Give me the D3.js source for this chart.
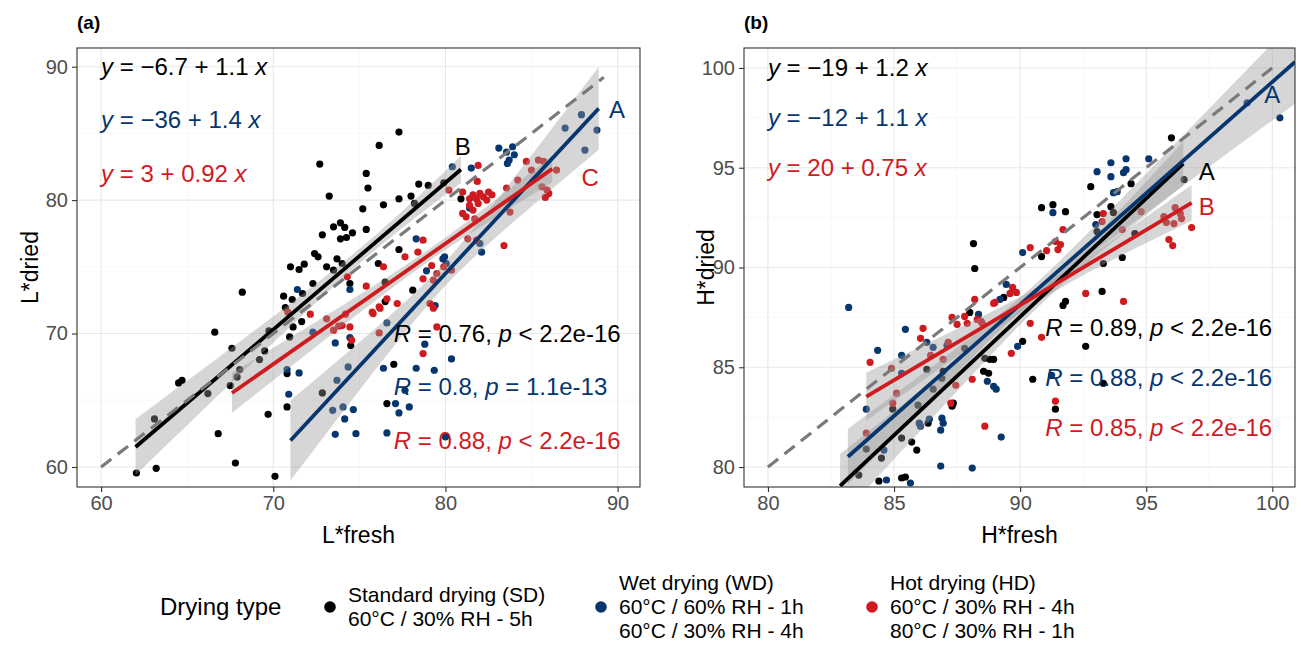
<!DOCTYPE html>
<html lang="en">
<head>
<meta charset="UTF-8">
<title>L* and H* fresh vs dried</title>
<script src="https://cdn.jsdelivr.net/npm/d3@7"></script>
<style>
  body { margin: 0; background: #fff; font-family: 'Liberation Sans', Arial, sans-serif; }
  svg { display: block; }
  .grid-major { stroke: #e8e8e8; stroke-width: 1.1; }
  .grid-minor { stroke: #f3f3f3; stroke-width: 0.6; }
  .tick text { font-size: 20px; fill: #4d4d4d; font-family: 'Liberation Sans', Arial, sans-serif; }
  .tick line { stroke: #333; }
  .axis-title { font-size: 23px; fill: #000; }
  .ann { font-size: 24px; }
</style>
</head>
<body>
<svg id="chart" width="1301" height="646"></svg>
<script>
// ---- data ----
const groups = ['SD', 'WD', 'HD'];
const groupColors = ['#000000', '#07366f', '#cf1b1f'];
const legendLines = [
  ['Standard drying (SD)', '60°C / 30% RH - 5h'],
  ['Wet drying (WD)', '60°C / 60% RH - 1h', '60°C / 30% RH - 4h'],
  ['Hot drying (HD)', '60°C / 30% RH - 4h', '80°C / 30% RH - 1h']
];

// panel (a): L* fresh vs dried
const ticksA = [60, 70, 80, 90];
const minorA = [65, 75, 85];
const sdA = [[62.05,59.55],[63.2,59.9],[63.1,63.6],[64.5,66.3],[64.7,66.5],[66.2,65.5],[66.6,70.1],[66.8,62.5],[68.2,73.1],[67.6,68.9],[67.8,60.3],[67.5,66.1],[67.9,66.75],[68.05,67.3],[69.2,68.05],[69.5,68.7],[69.7,63.95],[69.75,70.2],[70.1,59.3],[70.6,72.8],[71.1,72.55],[71.0,75.0],[71.5,74.8],[71.8,75.2],[70.7,71.95],[71.15,70.5],[70.95,69.75],[70.8,67.0],[70.8,64.5],[71.7,73.0],[71.65,70.9],[72.3,73.75],[72.4,76.0],[72.6,75.75],[72.85,65.55],[73.1,75.0],[73.5,74.75],[73.7,75.6],[74.0,75.25],[74.45,73.75],[74.5,69.1],[77.3,85.1],[76.15,84.1],[72.7,82.7],[75.4,82.0],[75.5,80.9],[73.25,80.3],[75.2,79.35],[76.4,79.65],[77.3,80.1],[78.0,80.3],[78.45,81.2],[79.0,81.1],[79.9,81.3],[73.5,78.0],[73.9,78.3],[74.15,77.95],[74.6,77.55],[74.25,77.2],[73.9,77.1],[75.4,77.8],[72.85,77.4],[76.1,75.25],[77.3,76.3],[76.5,73.85],[78.1,73.25],[78.2,79.75],[80.9,80.1],[76.5,72.4],[77.0,67.7],[76.6,64.75]];
const wdA = [[71.4,73.3],[70.8,67.3],[70.9,65.45],[71.5,67.05],[72.3,70.1],[73.6,69.3],[74.45,73.3],[74.45,69.7],[73.7,66.5],[74.35,67.5],[73.45,64.25],[74.05,64.5],[74.65,64.3],[74.15,63.6],[73.6,62.45],[74.8,62.5],[76.6,62.55],[77.1,64.75],[77.3,64.05],[77.9,64.5],[77.65,65.75],[76.4,67.4],[78.3,67.4],[79.35,67.25],[78.8,69.2],[80.35,68.1],[80.0,62.25],[76.6,70.8],[82.1,76.1],[79.95,75.75],[78.3,77.1],[78.9,74.7],[79.85,75.6],[80.05,75.25],[79.4,72.1],[80.4,82.5],[81.5,82.4],[81.4,79.4],[83.1,83.9],[83.55,83.6],[83.9,84.0],[83.7,83.0],[84.0,83.4],[83.6,82.75],[86.95,85.4],[87.9,86.4],[88.1,83.75],[82.0,76.75],[88.8,85.25]];
const hdA = [[70.85,71.6],[72.15,71.45],[73.1,71.1],[73.5,70.25],[74.0,70.6],[74.2,71.45],[74.3,74.25],[74.55,69.5],[73.8,70.55],[75.4,73.55],[76.4,75.0],[77.65,75.75],[78.4,76.1],[78.7,77.0],[79.2,75.1],[79.5,74.5],[79.3,74.0],[78.7,74.1],[80.2,80.75],[77.2,72.25],[76.15,72.0],[75.75,71.6],[76.6,72.6],[74.45,70.5],[79.1,72.25],[79.3,71.9],[81.9,82.6],[81.85,81.4],[81.0,80.6],[81.4,80.1],[81.6,80.4],[81.8,80.1],[82.0,80.5],[82.2,80.25],[82.5,80.6],[82.7,80.4],[82.4,80.0],[81.9,79.75],[81.4,79.6],[81.0,79.0],[81.2,78.75],[81.6,79.25],[81.7,78.6],[83.55,80.9],[84.2,81.5],[84.7,82.9],[85.4,83.0],[85.7,82.9],[85.0,82.25],[86.45,82.25],[85.6,81.0],[85.9,80.75],[85.8,80.2],[86.0,80.5],[83.75,79.1],[83.4,76.6],[81.3,77.1],[81.8,77.0],[80.35,74.75],[79.9,75.0],[75.8,71.5],[76.2,71.9],[76.15,70.05],[78.7,68.5],[79.5,70.5]];
// fitted lines: intercept, slope, x range, CI half-width at start / narrowest / end
const fitsA = [
  { b0: -6.7, b1: 1.1, x0: 62.0, x1: 80.9, hs: 2.1, hm: 0.55, he: 1.0 },
  { b0: -36.7, b1: 1.39, x0: 71.0, x1: 88.9, hs: 3.0, hm: 0.9, he: 3.1 },
  { b0: 4.5, b1: 0.903, x0: 67.6, x1: 86.2, hs: 1.5, hm: 0.45, he: 1.0 }
];
const identityA = [60, 89.2];
const eqA = [['−6.7', '1.1'], ['−36', '1.4'], ['3', '0.92']];
const eqPosA = { x: 60, y: [90, 86, 82] };
const corA = [['0.76', '<', '2.2e-16'], ['0.8', '=', '1.1e-13'], ['0.88', '<', '2.2e-16']];
const corPosA = { x: 77, y: [70, 66, 62] };
const tagsA = [['B', 0, 81.0, 84.0], ['A', 1, 89.97, 86.75], ['C', 2, 88.4, 81.7]];

// panel (b): H* fresh vs dried
const ticksB = [80, 85, 90, 95, 100];
const minorB = [82.5, 87.5, 92.5, 97.5];
const sdB = [[88.2,89.95],[88.0,87.75],[88.6,85.45],[88.55,84.8],[88.75,84.7],[87.35,83.2],[87.3,83.05],[86.35,82.2],[85.7,81.25],[85.9,80.85],[85.3,81.45],[84.5,80.45],[83.9,80.9],[83.6,79.6],[84.4,79.3],[85.3,79.45],[85.45,79.5],[84.95,82.9],[86.3,84.9],[86.95,84.8],[86.55,83.9],[88.15,91.2],[88.8,85.4],[88.95,85.4],[90.1,86.3],[89.35,88.5],[86.9,84.45],[85.95,83.1],[87.8,85.95],[96.0,96.5],[96.5,94.4],[92.8,94.05],[94.4,94.2],[90.85,93.0],[91.3,93.15],[91.8,92.8],[93.05,92.65],[93.6,93.05],[93.7,92.75],[90.85,90.55],[94.05,90.5],[94.55,91.7],[93.05,91.8],[93.3,90.2],[93.25,88.8],[91.8,88.3],[91.7,88.1],[92.6,86.05],[90.5,84.4],[93.3,84.2],[91.4,82.9]];
const wdB = [[83.2,88.0],[84.35,85.85],[83.9,82.9],[85.3,85.6],[85.45,86.9],[86.3,86.25],[86.55,86.0],[85.3,84.7],[86.0,82.2],[86.05,82.05],[86.4,82.4],[86.9,82.45],[86.95,82.2],[86.85,81.85],[86.85,80.05],[88.1,79.95],[84.7,79.35],[85.65,79.2],[84.6,80.85],[88.35,87.65],[88.7,84.3],[88.95,84.05],[89.05,83.9],[89.25,81.5],[89.45,89.15],[89.2,88.4],[90.1,90.75],[89.9,86.05],[87.1,86.1],[93.05,94.8],[93.6,95.25],[94.2,95.45],[95.1,95.45],[93.6,94.55],[94.1,94.75],[94.2,94.9],[93.7,93.75],[93.85,93.8],[91.3,92.75],[93.0,92.15],[99.0,98.25],[100.3,97.5],[91.25,84.6]];
const hdB = [[84.05,85.25],[84.9,84.95],[85.1,83.7],[84.95,83.2],[83.9,81.7],[86.05,86.45],[86.15,86.95],[86.45,85.6],[87.15,86.25],[87.3,87.5],[87.5,87.15],[87.8,87.55],[88.2,88.4],[88.45,87.3],[87.45,84.1],[88.1,84.4],[88.6,82.05],[87.25,83.2],[86.95,85.4],[87.9,87.2],[88.3,87.4],[88.5,87.2],[88.95,88.2],[89.6,88.7],[89.85,88.75],[89.65,85.7],[90.4,87.2],[90.4,91.0],[91.5,90.9],[91.05,90.85],[91.4,91.3],[91.6,91.15],[91.7,91.9],[93.3,92.7],[93.25,92.3],[94.8,92.8],[95.7,92.55],[95.8,92.25],[96.15,93.0],[96.35,92.7],[96.4,92.45],[96.1,92.2],[96.8,92.0],[95.9,91.4],[96.05,91.1],[94.05,91.9],[89.7,89.0],[89.0,88.25],[90.85,86.5],[92.6,88.7],[94.1,88.3],[91.4,83.3]];
const fitsB = [
  { b0: -19.3, b1: 1.187, x0: 82.86, x1: 96.47, hs: 1.6, hm: 0.35, he: 1.1 },
  { b0: -12.3, b1: 1.116, x0: 83.17, x1: 100.9, hs: 1.4, hm: 0.35, he: 2.1 },
  { b0: 20.35, b1: 0.753, x0: 83.9, x1: 96.8, hs: 1.2, hm: 0.35, he: 0.9 }
];
const identityB = [80, 100];
const eqB = [['−19', '1.2'], ['−12', '1.1'], ['20', '0.75']];
const eqPosB = { x: 80, y: [100, 97.5, 95] };
const corB = [['0.89', '<', '2.2e-16'], ['0.88', '<', '2.2e-16'], ['0.85', '<', '2.2e-16']];
const corPosB = { x: 91, y: [87, 84.5, 82] };
const tagsB = [['A', 1, 100.0, 98.66], ['A', 0, 97.4, 94.8], ['B', 2, 97.4, 93.05]];

// ---- layout ----
const panels = [
  { id: 'a', tag: '(a)', left: 77, right: 640, top: 48, bottom: 487,
    xDom: [58.6, 91.3], yDom: [58.5, 91.4], ticks: ticksA, minor: minorA,
    pts: [sdA, wdA, hdA], fits: fitsA, ident: identityA, eq: eqA, eqPos: eqPosA,
    cor: corA, corPos: corPosA, tags: tagsA, xTitle: 'L*fresh', yTitle: 'L*dried', yTitleX: 30 },
  { id: 'b', tag: '(b)', left: 744, right: 1295, top: 48, bottom: 487,
    xDom: [79.05, 100.9], yDom: [79.0, 101.0], ticks: ticksB, minor: minorB,
    pts: [sdB, wdB, hdB], fits: fitsB, ident: identityB, eq: eqB, eqPos: eqPosB,
    cor: corB, corPos: corPosB, tags: tagsB, xTitle: 'H*fresh', yTitle: 'H*dried', yTitleX: 706 }
];

const svg = d3.select('#chart');

function halfWidth(f) {
  const A = Math.sqrt(f.hs * f.hs - f.hm * f.hm);
  const B = Math.sqrt(f.he * f.he - f.hm * f.hm);
  const xm = (B * f.x0 + A * f.x1) / (A + B);
  const k = Math.pow(A / (xm - f.x0), 2);
  return x => Math.sqrt(f.hm * f.hm + k * (x - xm) * (x - xm));
}

panels.forEach(p => {
  const x = d3.scaleLinear().domain(p.xDom).range([p.left, p.right]);
  const y = d3.scaleLinear().domain(p.yDom).range([p.bottom, p.top]);
  const g = svg.append('g');

  g.append('clipPath').attr('id', 'clip-' + p.id)
    .append('rect').attr('x', p.left).attr('y', p.top)
    .attr('width', p.right - p.left).attr('height', p.bottom - p.top);

  // grid
  const grid = g.append('g');
  p.minor.forEach(v => {
    grid.append('line').attr('class', 'grid-minor')
      .attr('x1', x(v)).attr('x2', x(v)).attr('y1', p.top).attr('y2', p.bottom);
    grid.append('line').attr('class', 'grid-minor')
      .attr('x1', p.left).attr('x2', p.right).attr('y1', y(v)).attr('y2', y(v));
  });
  p.ticks.forEach(v => {
    grid.append('line').attr('class', 'grid-major')
      .attr('x1', x(v)).attr('x2', x(v)).attr('y1', p.top).attr('y2', p.bottom);
    grid.append('line').attr('class', 'grid-major')
      .attr('x1', p.left).attr('x2', p.right).attr('y1', y(v)).attr('y2', y(v));
  });

  const plot = g.append('g').attr('clip-path', 'url(#clip-' + p.id + ')');

  // points
  p.pts.forEach((arr, gi) => {
    plot.append('g').selectAll('circle').data(arr).enter().append('circle')
      .attr('cx', d => x(d[0])).attr('cy', d => y(d[1])).attr('r', 3.6)
      .attr('fill', groupColors[gi]);
  });

  // confidence bands
  p.fits.forEach(f => {
    const hw = halfWidth(f);
    const xs = d3.range(0, 61).map(i => f.x0 + (f.x1 - f.x0) * i / 60);
    const area = d3.area()
      .x(d => x(d))
      .y0(d => y(f.b0 + f.b1 * d - hw(d)))
      .y1(d => y(f.b0 + f.b1 * d + hw(d)));
    plot.append('path').attr('d', area(xs))
      .attr('fill', 'rgba(153,153,153,0.4)');
  });

  // regression lines
  p.fits.forEach((f, gi) => {
    plot.append('line')
      .attr('x1', x(f.x0)).attr('y1', y(f.b0 + f.b1 * f.x0))
      .attr('x2', x(f.x1)).attr('y2', y(f.b0 + f.b1 * f.x1))
      .attr('stroke', groupColors[gi]).attr('stroke-width', 3.8);
  });

  // identity line
  plot.append('line')
    .attr('x1', x(p.ident[0])).attr('y1', y(p.ident[0]))
    .attr('x2', x(p.ident[1])).attr('y2', y(p.ident[1]))
    .attr('stroke', '#7a7a7a').attr('stroke-width', 3.2)
    .attr('stroke-dasharray', '13 8');

  // curve tags
  p.tags.forEach(t => {
    g.append('text').attr('class', 'ann')
      .attr('x', x(t[2])).attr('y', y(t[3])).attr('dy', '0.35em')
      .attr('text-anchor', 'middle').attr('fill', groupColors[t[1]]).text(t[0]);
  });

  // regression equations
  p.eq.forEach((e, gi) => {
    const t = g.append('text').attr('class', 'ann')
      .attr('x', x(p.eqPos.x)).attr('y', y(p.eqPos.y[gi])).attr('dy', '0.35em')
      .attr('fill', groupColors[gi]);
    t.append('tspan').attr('font-style', 'italic').text('y');
    t.append('tspan').text(' = ' + e[0] + ' + ' + e[1] + ' ');
    t.append('tspan').attr('font-style', 'italic').text('x');
  });

  // correlations
  p.cor.forEach((c, gi) => {
    const t = g.append('text').attr('class', 'ann')
      .attr('x', x(p.corPos.x)).attr('y', y(p.corPos.y[gi])).attr('dy', '0.35em')
      .attr('fill', groupColors[gi]);
    t.append('tspan').attr('font-style', 'italic').text('R');
    t.append('tspan').text(' = ' + c[0] + ', ');
    t.append('tspan').attr('font-style', 'italic').text('p');
    t.append('tspan').text(' ' + c[1] + ' ' + c[2]);
  });

  // panel border
  g.append('rect').attr('x', p.left).attr('y', p.top)
    .attr('width', p.right - p.left).attr('height', p.bottom - p.top)
    .attr('fill', 'none').attr('stroke', '#333').attr('stroke-width', 1.1);

  // axes
  const xAxis = d3.axisBottom(x).tickValues(p.ticks).tickSize(5).tickPadding(4).tickFormat(d3.format('d'));
  const yAxis = d3.axisLeft(y).tickValues(p.ticks).tickSize(5).tickPadding(4).tickFormat(d3.format('d'));
  const gx = g.append('g').attr('transform', `translate(0,${p.bottom})`).call(xAxis);
  const gy = g.append('g').attr('transform', `translate(${p.left},0)`).call(yAxis);
  [gx, gy].forEach(a => {
    a.select('.domain').remove();
    a.selectAll('.tick line').attr('stroke', '#333').attr('stroke-width', 1.1);
  });

  // titles
  g.append('text').attr('class', 'axis-title')
    .attr('x', (p.left + p.right) / 2).attr('y', 535).attr('dy', '0.35em')
    .attr('text-anchor', 'middle').text(p.xTitle);
  g.append('text').attr('class', 'axis-title')
    .attr('transform', `translate(${p.yTitleX},${(p.top + p.bottom) / 2}) rotate(-90)`)
    .attr('dy', '0.35em').attr('text-anchor', 'middle').text(p.yTitle);
  g.append('text').attr('x', p.left).attr('y', 22).attr('dy', '0.35em')
    .attr('font-size', 19).attr('font-weight', 'bold').text(p.tag);
});

// ---- legend ----
const legend = svg.append('g');
legend.append('text').attr('x', 160).attr('y', 607).attr('dy', '0.35em')
  .attr('font-size', 24).text('Drying type');
const keyX = [330, 601, 872];
groups.forEach((grp, i) => {
  legend.append('circle').attr('cx', keyX[i]).attr('cy', 607).attr('r', 5.8)
    .attr('fill', groupColors[i]);
  const lines = legendLines[i];
  const y0 = 607 - (lines.length - 1) * 12;
  lines.forEach((ln, j) => {
    legend.append('text').attr('x', keyX[i] + 18).attr('y', y0 + j * 24)
      .attr('dy', '0.35em').attr('font-size', 21).text(ln);
  });
});
</script>
</body>
</html>
